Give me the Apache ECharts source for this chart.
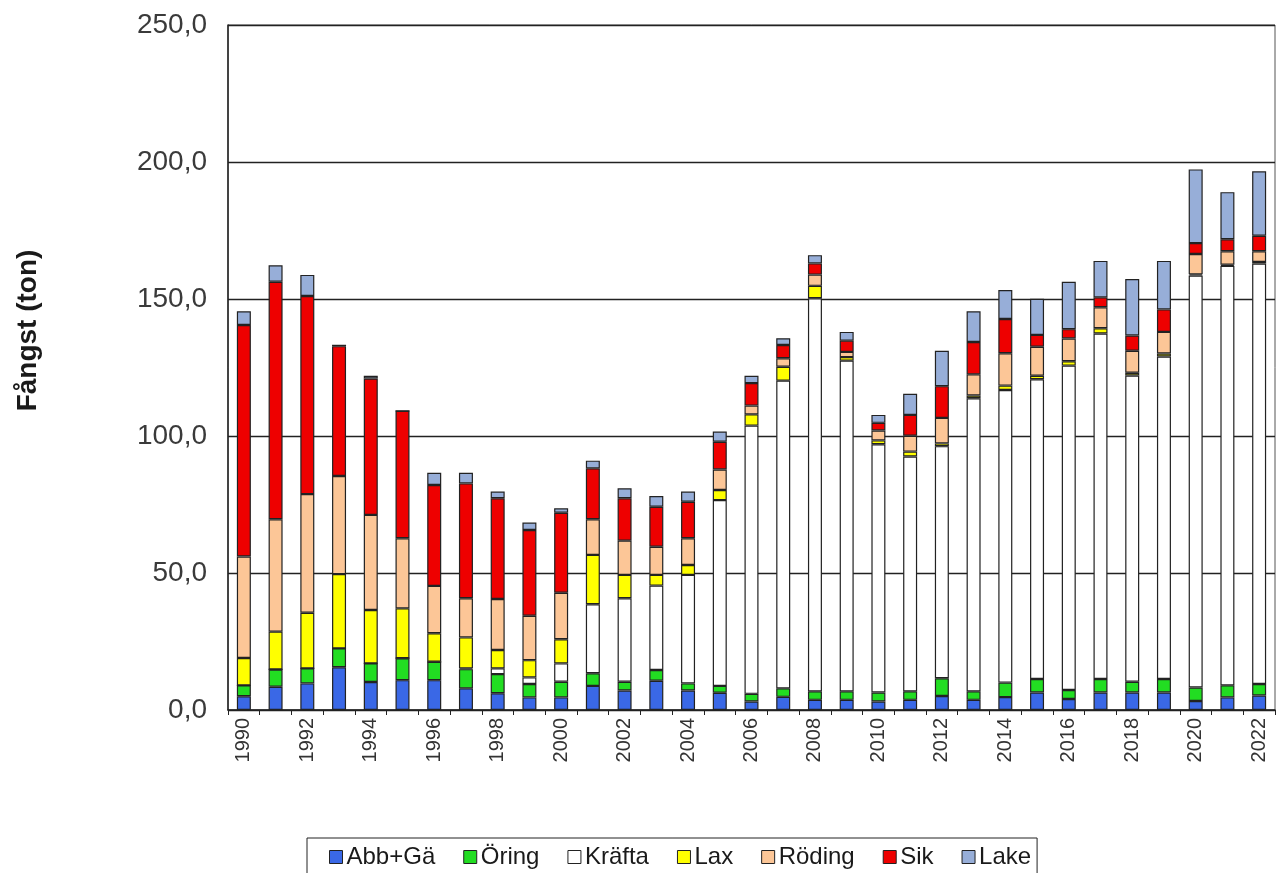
<!DOCTYPE html>
<html>
<head>
<meta charset="utf-8">
<script src="https://cdn.jsdelivr.net/npm/echarts@6/dist/echarts.min.js"></script>
<style>
html,body{margin:0;padding:0;background:#fff;}
#c{width:1282px;height:873px;}
</style>
</head>
<body>
<div id="c"></div>
<script>
const years = ['1990','1991','1992','1993','1994','1995','1996','1997','1998','1999','2000','2001','2002','2003','2004','2005','2006','2007','2008','2009','2010','2011','2012','2013','2014','2015','2016','2017','2018','2019','2020','2021','2022'];
const abbGa  = [5.0,8.5,9.7,15.6,10.2,10.9,10.9,7.9,6.1,4.6,4.6,8.8,7.1,10.7,7.1,6.3,3.1,4.8,3.7,3.7,3.1,3.7,5.1,3.7,4.7,6.4,4.0,6.4,6.4,6.4,3.3,4.6,5.3];
const oring  = [4.0,6.3,5.5,6.9,6.8,8.0,6.7,7.0,7.0,4.9,5.7,4.6,3.2,3.9,2.6,2.5,2.8,3.1,3.1,3.1,3.3,3.1,6.5,3.1,5.3,4.9,3.3,4.9,3.9,4.9,4.9,4.4,4.2];
const krafta = [0,0,0,0,0,0,0,0.3,2.1,2.4,6.7,25.2,30.5,30.8,39.6,67.8,97.9,112.3,143.5,120.7,90.6,85.7,84.7,107.0,106.8,109.4,118.4,126.1,111.8,117.7,150.4,153.1,153.4];
const lax    = [10.0,13.8,20.3,27.1,19.5,18.2,10.4,11.3,6.7,6.3,8.8,18.0,8.5,3.9,3.6,3.7,4.1,5.1,4.5,1.3,1.4,1.8,1.0,1.0,1.6,1.3,1.6,1.9,1.0,1.1,0.4,0.4,0.6];
const roding = [37.0,41.0,43.3,35.8,34.7,25.6,17.3,14.3,18.6,16.2,17.0,13.0,12.5,10.3,9.8,7.5,3.2,3.1,4.1,1.9,3.6,5.8,9.3,7.7,11.8,10.6,8.3,7.7,8.0,7.9,7.4,4.9,3.9];
const sik    = [84.5,86.7,72.3,47.4,49.8,46.5,36.8,41.9,36.8,31.3,29.2,18.6,15.5,14.6,13.3,10.1,8.2,4.8,4.1,4.1,2.8,7.6,11.6,11.8,12.5,4.3,3.4,3.6,5.6,8.2,4.0,4.4,5.7];
const lake   = [5.0,6.0,7.7,0.5,1.0,0,4.5,3.9,2.4,2.7,1.6,2.8,3.6,3.9,3.7,3.7,2.7,2.5,3.0,3.2,2.9,7.7,12.9,11.2,10.6,13.2,17.3,13.3,20.6,17.7,26.9,17.2,23.5];
const seriesNames = ['Abb+Gä','Öring','Kräfta','Lax','Röding','Sik','Lake'];
const seriesData = [abbGa, oring, krafta, lax, roding, sik, lake];
const colors = ['#3a68e6','#22dd22','#ffffff','#ffff00','#fcc697','#ee0000','#97aed8'];
const yTicks = [0,50,100,150,200,250];

const chart = echarts.init(document.getElementById('c'), null, {renderer:'canvas'});
const font = 'Liberation Sans, Arial, sans-serif';
chart.setOption({
  animation:false,
  backgroundColor:'#fff',
  color: colors,
  grid:{left:228,right:7,top:25,bottom:163,show:true,borderColor:'#555',borderWidth:1,backgroundColor:'transparent'},
  legend:{
    data: seriesNames,
    top:838, left:307,
    orient:'horizontal',
    icon:'rect', itemWidth:13, itemHeight:13, itemGap:28,
    padding:[7,6,20,22],
    borderColor:'#222', borderWidth:1,
    textStyle:{fontFamily:font,fontSize:24,color:'#1a1a1a',padding:[0,0,0,-1]},
    itemStyle:{borderColor:'#222',borderWidth:1}
  },
  xAxis:{
    type:'category', data: years,
    axisLine:{lineStyle:{color:'#222',width:1.5}},
    axisTick:{show:true,alignWithLabel:false,interval:0,length:5,lineStyle:{color:'#222'}},
    axisLabel:{interval:1,rotate:90,fontFamily:font,fontSize:20,color:'#333',margin:8}
  },
  yAxis:{
    type:'value', min:0, max:250, interval:50,
    name:'Fångst (ton)', nameLocation:'middle', nameRotate:90, nameGap:186,
    nameTextStyle:{fontFamily:font,fontSize:28,fontWeight:'bold',color:'#1a1a1a',padding:[0,0,0,74]},
    axisLine:{show:true,lineStyle:{color:'#222',width:1.5}},
    axisTick:{show:false},
    splitLine:{lineStyle:{color:'#222',width:1.3}},
    axisLabel:{fontFamily:font,fontSize:28,color:'#3a3a3a',margin:21,
      formatter:v=>yTicks.includes(v)?v.toFixed(1).replace('.',','):''}
  },
  series: seriesNames.map((n,i)=>({
    name:n, type:'bar', stack:'total', data: seriesData[i],
    barWidth:14,
    itemStyle:{color:colors[i],borderColor:'#222',borderWidth:1.2}
  }))
});
</script>
</body>
</html>
